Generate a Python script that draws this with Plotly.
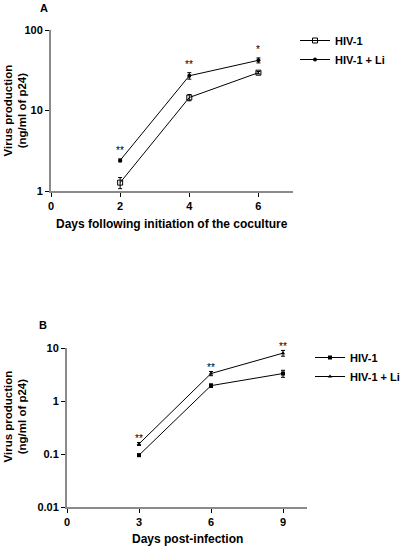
import math
import plotly.graph_objects as go

# ---- Panel A data ----
days_a = [2, 4, 6]
hiv_a = [1.27, 14.5, 29.5]
hiv_a_err = [0.2, 1.3, 1.0]
li_a = [2.4, 27.0, 42.0]
li_a_err = [0.1, 2.5, 3.0]
stars_a = ["**", "**", "*"]

# ---- Panel B data ----
days_b = [3, 6, 9]
hiv_b = [0.095, 1.95, 3.3]
hiv_b_err = [0.005, 0.15, 0.5]
li_b = [0.155, 3.3, 8.0]
li_b_err = [0.01, 0.3, 1.0]
stars_b = ["**", "**", "**"]

xticks_a = [0, 2, 4, 6]
yticks_a = [1, 10, 100]
yticklabels_a = ["1", "10", "100"]
xticks_b = [0, 3, 6, 9]
yticks_b = [0.01, 0.1, 1, 10]
yticklabels_b = ["0.01", "0.1", "1", "10"]

FONT = "Arial, Liberation Sans, sans-serif"
W, H = 401, 547


def px(p):
    return p / W


def py(p):
    return 1 - p / H


fig = go.Figure()

line = dict(color="black", width=1)

fig.add_trace(go.Scatter(
    x=days_a, y=hiv_a, name="HIV-1", mode="lines+markers",
    line=line,
    marker=dict(symbol="square-open", size=5, color="black", line=dict(width=1)),
    error_y=dict(type="data", array=hiv_a_err, color="black", thickness=1, width=2),
    xaxis="x", yaxis="y", legend="legend"))
fig.add_trace(go.Scatter(
    x=days_a, y=li_a, name="HIV-1 + Li", mode="lines+markers",
    line=line,
    marker=dict(symbol="circle", size=4, color="black"),
    error_y=dict(type="data", array=li_a_err, color="black", thickness=1, width=2),
    xaxis="x", yaxis="y", legend="legend"))

fig.add_trace(go.Scatter(
    x=days_b, y=hiv_b, name="HIV-1", mode="lines+markers",
    line=line,
    marker=dict(symbol="square", size=4, color="black"),
    error_y=dict(type="data", array=hiv_b_err, color="black", thickness=1, width=2),
    xaxis="x2", yaxis="y2", legend="legend2"))
fig.add_trace(go.Scatter(
    x=days_b, y=li_b, name="HIV-1 + Li", mode="lines+markers",
    line=line,
    marker=dict(symbol="triangle-up", size=4, color="black"),
    error_y=dict(type="data", array=li_b_err, color="black", thickness=1, width=2),
    xaxis="x2", yaxis="y2", legend="legend2"))

axis_common = dict(
    showgrid=False, zeroline=False, showline=True, linecolor="#8a8a8a", linewidth=2,
    ticks="outside", ticklen=4, tickwidth=1, tickcolor="black",
    tickfont=dict(family=FONT, size=11, color="black", weight="bold"),
    automargin=False,
)

ann = []
# asterisks (log axes: annotation y in log10 units)
for xv, yv, e, s in zip(days_a, li_a, li_a_err, stars_a):
    ann.append(dict(x=xv, y=math.log10(yv + e), xref="x", yref="y", text=s, showarrow=False,
                    xanchor="center", yanchor="middle",
                    yshift=8, font=dict(family=FONT, size=10, color="black")))
for xv, yv, e, s in zip(days_b, li_b, li_b_err, stars_b):
    ann.append(dict(x=xv, y=math.log10(yv + e), xref="x2", yref="y2", text=s, showarrow=False,
                    xanchor="center", yanchor="middle",
                    yshift=4, font=dict(family=FONT, size=10, color="black")))

tfont = dict(family=FONT, size=11, color="black", weight="bold")
titlefont = dict(family=FONT, size=12, color="black", weight="bold")
ytitlefont = dict(family=FONT, size=11.5, color="black", weight="bold")
common_ann = dict(xref="paper", yref="paper", showarrow=False,
                  xanchor="center", yanchor="middle")
ann += [
    dict(x=px(44), y=py(8), text="A", font=tfont, **common_ann),
    dict(x=px(43), y=py(325), text="B", font=tfont, **common_ann),
    dict(x=px((51 + 293) / 2), y=py(224), text="Days following initiation of the coculture",
         font=titlefont, **common_ann),
    dict(x=px((67 + 307) / 2), y=py(539), text="Days post-infection", font=titlefont,
         **common_ann),
    dict(x=px(14.5), y=py(111), textangle=-90,
         text="Virus production<br>(ng/ml of p24)", font=ytitlefont, **common_ann),
    dict(x=px(14.5), y=py(417), textangle=-90,
         text="Virus production<br>(ng/ml of p24)", font=ytitlefont, **common_ann),
]

fig.update_layout(
    width=W, height=H, margin=dict(l=0, r=0, t=0, b=0, autoexpand=False),
    paper_bgcolor="white", plot_bgcolor="white",
    font=dict(family=FONT, size=11, color="black"),
    xaxis=dict(domain=[px(51), px(293)], range=[0, 7], tickvals=xticks_a,
               anchor="y", **axis_common),
    yaxis=dict(domain=[py(191), py(30)], type="log", range=[0, 2],
               tickvals=yticks_a, ticktext=yticklabels_a, anchor="x", **axis_common),
    xaxis2=dict(domain=[px(67), px(307)], range=[0, 10], tickvals=xticks_b,
                anchor="y2", **axis_common),
    yaxis2=dict(domain=[py(507), py(348)], type="log", range=[-2, 1],
                tickvals=yticks_b, ticktext=yticklabels_b, anchor="x2", **axis_common),
    legend=dict(x=px(295), y=py(26), xanchor="left", yanchor="top",
                bgcolor="rgba(0,0,0,0)", font=tfont, itemwidth=30, tracegroupgap=0),
    legend2=dict(x=px(310), y=py(343), xanchor="left", yanchor="top",
                 bgcolor="rgba(0,0,0,0)", font=tfont, itemwidth=30, tracegroupgap=0),
    annotations=ann,
)

fig.write_html(
    "out.html",
    config={"displayModeBar": False},
    post_script="document.body.style.margin='0';document.body.style.overflow='hidden';",
)
